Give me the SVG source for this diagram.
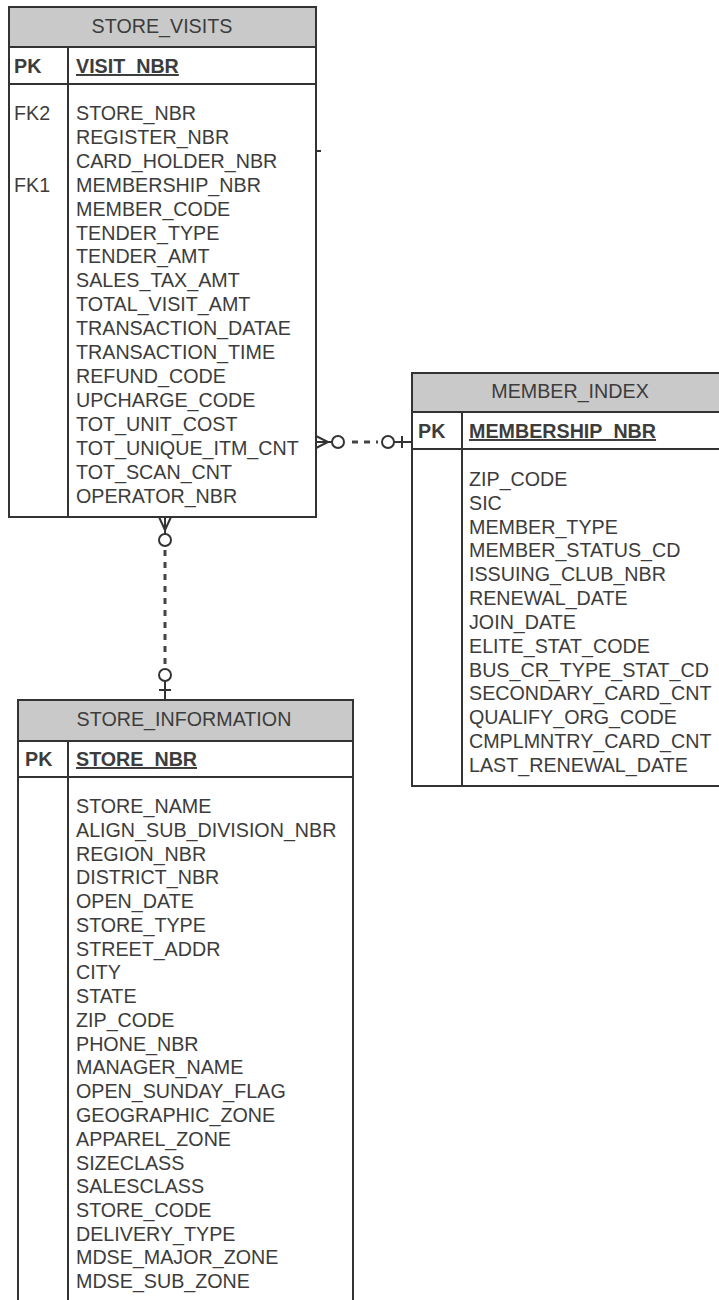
<svg xmlns="http://www.w3.org/2000/svg" width="719" height="1300" viewBox="0 0 719 1300">
<style>
.box{fill:#fff;stroke:#333;stroke-width:2}
.hdr{fill:#c9c9c9;stroke:#333;stroke-width:2}
.ln{stroke:#333;stroke-width:2;fill:none}
text{font-family:"Liberation Sans",Arial,sans-serif;font-size:19.7px;fill:#3c3c3c}
.t{text-anchor:middle}
.pk{font-weight:bold}
.pkn{font-weight:bold;text-decoration:underline}
.c{stroke:#333;stroke-width:2;fill:#fff}
.d{stroke:#444;stroke-width:3;stroke-dasharray:6 6;fill:none}
</style>
<rect width="719" height="1300" fill="#fff"/>

<g id="store_visits">
<rect class="box" x="9" y="7" width="307" height="510"/>
<rect class="hdr" x="9" y="7" width="307" height="40"/>
<text class="t" x="162" y="33">STORE_VISITS</text>
<line class="ln" x1="9" y1="84" x2="316" y2="84"/>
<line class="ln" x1="68" y1="47" x2="68" y2="517"/>
<text class="pk" x="14" y="73">PK</text>
<text class="pkn" x="76" y="73">VISIT_NBR</text>
<text x="14" y="120">FK2</text>
<text x="14" y="192">FK1</text>
<text x="76" y="120">STORE_NBR</text>
<text x="76" y="144">REGISTER_NBR</text>
<text x="76" y="168">CARD_HOLDER_NBR</text>
<text x="76" y="192">MEMBERSHIP_NBR</text>
<text x="76" y="216">MEMBER_CODE</text>
<text x="76" y="240">TENDER_TYPE</text>
<text x="76" y="263">TENDER_AMT</text>
<text x="76" y="287">SALES_TAX_AMT</text>
<text x="76" y="311">TOTAL_VISIT_AMT</text>
<text x="76" y="335">TRANSACTION_DATAE</text>
<text x="76" y="359">TRANSACTION_TIME</text>
<text x="76" y="383">REFUND_CODE</text>
<text x="76" y="407">UPCHARGE_CODE</text>
<text x="76" y="431">TOT_UNIT_COST</text>
<text x="76" y="455">TOT_UNIQUE_ITM_CNT</text>
<text x="76" y="479">TOT_SCAN_CNT</text>
<text x="76" y="503">OPERATOR_NBR</text>
</g>

<g id="member_index">
<rect class="box" x="412" y="373" width="320" height="413"/>
<rect class="hdr" x="412" y="373" width="320" height="39"/>
<text class="t" x="570" y="398">MEMBER_INDEX</text>
<line class="ln" x1="412" y1="449" x2="732" y2="449"/>
<line class="ln" x1="462" y1="412" x2="462" y2="786"/>
<text class="pk" x="418" y="438">PK</text>
<text class="pkn" x="469" y="438">MEMBERSHIP_NBR</text>
<text x="469" y="486">ZIP_CODE</text>
<text x="469" y="510">SIC</text>
<text x="469" y="534">MEMBER_TYPE</text>
<text x="469" y="557">MEMBER_STATUS_CD</text>
<text x="469" y="581">ISSUING_CLUB_NBR</text>
<text x="469" y="605">RENEWAL_DATE</text>
<text x="469" y="629">JOIN_DATE</text>
<text x="469" y="653">ELITE_STAT_CODE</text>
<text x="469" y="677">BUS_CR_TYPE_STAT_CD</text>
<text x="469" y="700">SECONDARY_CARD_CNT</text>
<text x="469" y="724">QUALIFY_ORG_CODE</text>
<text x="469" y="748">CMPLMNTRY_CARD_CNT</text>
<text x="469" y="772">LAST_RENEWAL_DATE</text>
</g>

<g id="store_information">
<rect class="box" x="18" y="700" width="335" height="620"/>
<rect class="hdr" x="18" y="700" width="335" height="41"/>
<text class="t" x="184" y="726">STORE_INFORMATION</text>
<line class="ln" x1="18" y1="777" x2="353" y2="777"/>
<line class="ln" x1="68" y1="741" x2="68" y2="1310"/>
<text class="pk" x="25" y="766">PK</text>
<text class="pkn" x="76" y="766">STORE_NBR</text>
<text x="76" y="813">STORE_NAME</text>
<text x="76" y="837">ALIGN_SUB_DIVISION_NBR</text>
<text x="76" y="861">REGION_NBR</text>
<text x="76" y="884">DISTRICT_NBR</text>
<text x="76" y="908">OPEN_DATE</text>
<text x="76" y="932">STORE_TYPE</text>
<text x="76" y="956">STREET_ADDR</text>
<text x="76" y="979">CITY</text>
<text x="76" y="1003">STATE</text>
<text x="76" y="1027">ZIP_CODE</text>
<text x="76" y="1051">PHONE_NBR</text>
<text x="76" y="1074">MANAGER_NAME</text>
<text x="76" y="1098">OPEN_SUNDAY_FLAG</text>
<text x="76" y="1122">GEOGRAPHIC_ZONE</text>
<text x="76" y="1146">APPAREL_ZONE</text>
<text x="76" y="1170">SIZECLASS</text>
<text x="76" y="1193">SALESCLASS</text>
<text x="76" y="1217">STORE_CODE</text>
<text x="76" y="1241">DELIVERY_TYPE</text>
<text x="76" y="1264">MDSE_MAJOR_ZONE</text>
<text x="76" y="1288">MDSE_SUB_ZONE</text>
</g>

<g id="connectors">
<line class="ln" x1="316" y1="151" x2="321" y2="151"/>
<!-- STORE_VISITS to MEMBER_INDEX -->
<line class="ln" x1="316" y1="442" x2="332" y2="442"/>
<polyline class="ln" points="316,436 328,442 316,448"/>
<circle class="c" cx="338" cy="442" r="6"/>
<line class="d" x1="352" y1="442" x2="378" y2="442"/>
<line class="ln" x1="394" y1="442" x2="412" y2="442"/>
<circle class="c" cx="388" cy="442" r="6"/>
<line class="ln" x1="402" y1="436" x2="402" y2="448"/>
<!-- STORE_VISITS to STORE_INFORMATION -->
<line class="ln" x1="165" y1="517" x2="165" y2="534"/>
<polyline class="ln" points="159,517 165,530 171,517"/>
<circle class="c" cx="165" cy="540" r="6"/>
<line class="d" x1="165" y1="550" x2="165" y2="668"/>
<line class="ln" x1="165" y1="681" x2="165" y2="700"/>
<circle class="c" cx="165" cy="675" r="6"/>
<line class="ln" x1="159" y1="690" x2="171" y2="690"/>
</g>
</svg>
